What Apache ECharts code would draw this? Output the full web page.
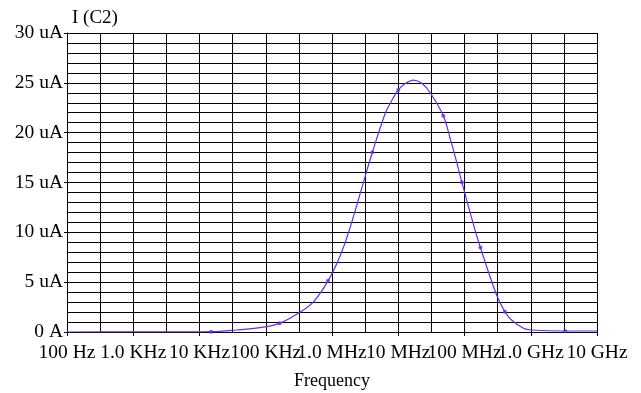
<!DOCTYPE html>
<html>
<head>
<meta charset="utf-8">
<style>
  html, body { margin: 0; padding: 0; background: #fff; }
  #chart { width: 641px; height: 393px; }
</style>
<script src="https://cdn.jsdelivr.net/npm/echarts@6/dist/echarts.min.js"></script>
</head>
<body>
<div id="chart"></div>
<script>
// frequency (Hz) and current (uA)
var freqHz = [100, 1e3, 1e4, 15e3, 36e3, 81e3, 162e3, 309e3, 525e3, 871e3,
    1.32e6, 1.82e6, 3.09e6, 4.07e6, 6.31e6, 7.94e6, 10e6, 12.6e6, 17e6, 22.9e6, 30.2e6,
    47.9e6, 60.3e6, 72.4e6, 91.2e6, 135e6, 174e6, 299e6, 407e6, 513e6, 776e6, 1.02e9,
    3.31e9, 1e10];
var currentUA = [0, 0.01, 0.02, 0.03, 0.2, 0.43, 0.87, 1.87, 3.03, 5.13,
    7.6, 10.2, 15.37, 18.03, 21.87, 23.2, 24.27, 24.9, 25.27, 24.93, 24.03,
    21.7, 19.5, 17.6, 15.03, 10.9, 8.47, 3.87, 2.03, 1.2, 0.37, 0.2,
    0.1, 0.1];
// points where the plotter put its little marker dots
var markerHz = [15e3, 162e3, 871e3, 4.07e6, 10e6, 47.9e6, 91.2e6, 174e6, 407e6, 3.31e9];
var markerUA = [0.03, 0.87, 5.13, 18.03, 24.27, 21.7, 15.03, 8.47, 2.03, 0.1];

var xTickLabels = {2: '100 Hz', 3: '1.0 KHz', 4: '10 KHz', 5: '100 KHz', 6: '1.0 MHz',
    7: '10 MHz', 8: '100 MHz', 9: '1.0 GHz', 10: '10 GHz'};
var yTickLabels = {0: '0 A', 5: '5 uA', 10: '10 uA', 15: '15 uA', 20: '20 uA', 25: '25 uA', 30: '30 uA'};

var font = 'Liberation Serif';
var lineCol = '#6a2cf5';

var traceData = freqHz.map(function (f, i) { return [Math.log10(f), currentUA[i]]; });
var markData = markerHz.map(function (f, i) { return [Math.log10(f), markerUA[i]]; });

var myChart = echarts.init(document.getElementById('chart'));

var option = {
    animation: false,
    grid: {left: 67, right: 44, top: 33, bottom: 61, outerBoundsMode: 'none'},
    title: {
        text: 'I (C2)',
        left: 67, top: 4,
        textStyle: {fontFamily: font, fontSize: 19, fontWeight: 'normal', color: '#000'}
    },
    xAxis: {
        type: 'value',
        min: 2, max: 10, interval: 1,
        name: 'Frequency',
        nameLocation: 'middle',
        nameGap: 40,
        nameTextStyle: {fontFamily: font, fontSize: 18, color: '#000'},
        axisLine: {lineStyle: {color: '#000', width: 1}},
        axisTick: {show: true, length: 4, inside: false, lineStyle: {color: '#000'}},
        axisLabel: {
            fontFamily: font, fontSize: 19.5, color: '#000', margin: 11,
            hideOverlap: false,
            formatter: function (v) { return xTickLabels[Math.round(v)] || ''; }
        },
        splitLine: {show: true, lineStyle: {color: '#000', width: 1}},
        minorTick: {show: false, splitNumber: 2},
        minorSplitLine: {show: true, lineStyle: {color: '#000', width: 1}}
    },
    yAxis: {
        type: 'value',
        min: 0, max: 30, interval: 5,
        axisLine: {show: true, lineStyle: {color: '#000', width: 1}},
        axisTick: {show: true, length: 3, lineStyle: {color: '#000'}},
        axisLabel: {
            fontFamily: font, fontSize: 19.5, color: '#000', margin: 4,
            formatter: function (v) { return yTickLabels[Math.round(v)] || ''; }
        },
        splitLine: {show: true, lineStyle: {color: '#000', width: 1}},
        minorTick: {show: false, splitNumber: 5},
        minorSplitLine: {show: true, lineStyle: {color: '#000', width: 1}}
    },
    series: [
        {
            name: 'I(C2)',
            type: 'line',
            data: traceData,
            smooth: 0.35,
            showSymbol: false,
            lineStyle: {color: lineCol, width: 1.2}
        },
        {
            name: 'markers',
            type: 'scatter',
            data: markData,
            symbol: 'circle',
            symbolSize: 4,
            itemStyle: {color: lineCol}
        }
    ]
};
myChart.setOption(option);
</script>
</body>
</html>
